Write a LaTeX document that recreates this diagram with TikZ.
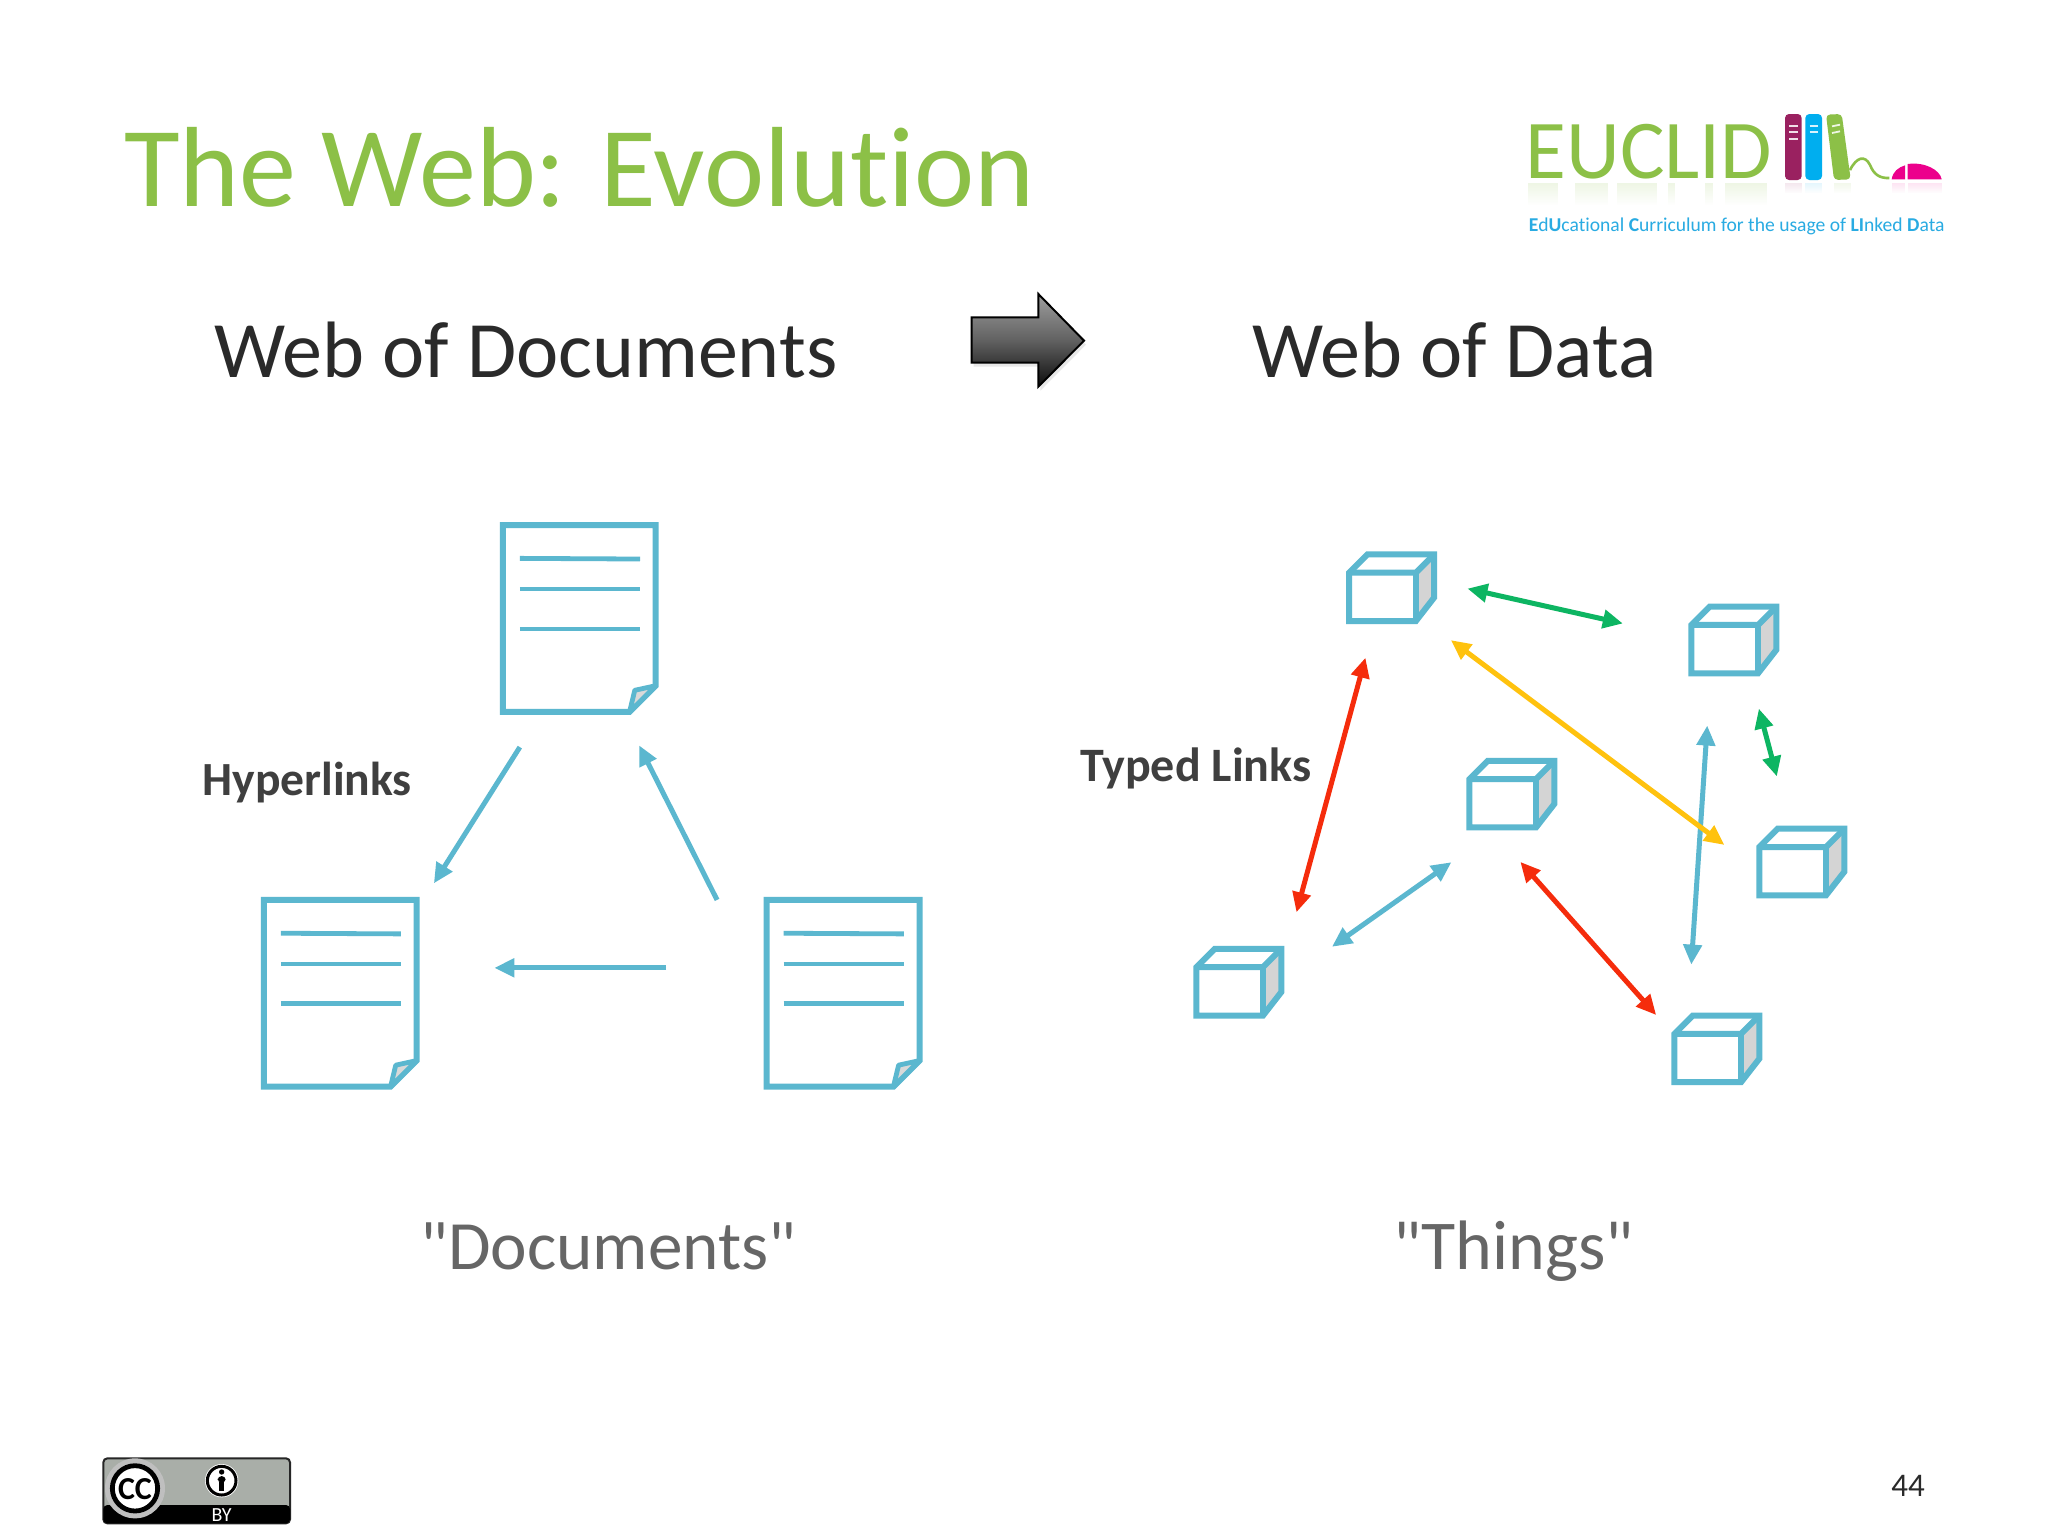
\documentclass[tikz,border=0pt]{standalone}
\usepackage{fontspec}
\newfontfamily\crl[Ligatures=NoCommon]{Carlito}
\usetikzlibrary{arrows.meta,shadows,fadings}
\definecolor{lnk}{HTML}{5BB7CF}
\definecolor{ttl}{HTML}{8CC047}
\definecolor{hd}{HTML}{2A2A2A}
\definecolor{lab}{HTML}{3F3F3F}
\definecolor{thing}{HTML}{666666}
\definecolor{rd}{HTML}{F52C0C}
\definecolor{grn}{HTML}{0DB562}
\definecolor{yel}{HTML}{FFC20E}
\definecolor{lgb}{HTML}{29ABE2}
\definecolor{bk1}{HTML}{9A2160}
\definecolor{bk2}{HTML}{00AEEF}
\definecolor{ms}{HTML}{EC008C}
\definecolor{badge}{HTML}{A9AEA8}
\tikzset{
  txt/.style={anchor=base west,inner sep=0pt,outer sep=0pt},
  docline/.style={draw=lnk,line width=2.4pt},
  docframe/.style={draw=lnk,line width=3pt,line join=miter,fill=white},
  cubeline/.style={draw=lnk,line width=3pt,line join=miter},
  lnkarrow/.style={line width=2.5pt,shorten >=-1pt,-{Triangle[length=10pt,width=9pt]}},
  twoway/.style={line width=2.5pt,shorten >=-1pt,shorten <=-1pt,{Triangle[length=10pt,width=9pt]}-{Triangle[length=10pt,width=9pt]}},
  docpic/.pic={
    \path[docframe] (1,1) -- (118,1) -- (118,124) -- (98,144) -- (1,144) -- cycle;
    \path[draw=lnk,line width=2.4pt,fill=black!15,line join=round] (118,124) -- (102,127.5) -- (98,144) -- cycle;
    \draw[docline] (14,26.5) -- (106,27);
    \draw[docline] (14,50) -- (106,50);
    \draw[docline] (14,80.5) -- (106,80.5);
  },
  cubepic/.pic={
    \path[fill=black!17] (51,14) -- (65,0) -- (65,33) -- (51,51) -- cycle;
    \path[cubeline] (0,14) -- (14,0) -- (65,0) -- (65,33) -- (51,51) -- (0,51) -- cycle;
    \path[cubeline] (0,14) -- (51,14) -- (65,0);
    \path[cubeline] (51,14) -- (51,51);
  },
}
\begin{document}
\begin{tikzpicture}[x=0.65306pt,y=-0.65306pt,every node/.style={font=\crl}]
\useasboundingbox[fill=white] (0,0) rectangle (1568,1176);

% title and headings
\node[txt,text=ttl,font=\crl\fontsize{57}{58}\selectfont] (title) at (95,158) {The Web: Evolution};
\node[txt,text=hd,font=\crl\fontsize{40}{41}\selectfont] (wdocs) at (164,289) {Web of Documents};
\node[txt,text=hd,font=\crl\fontsize{40}{41}\selectfont] (wdata) at (959,289) {Web of Data};
\node[txt,text=lab,font=\crl\bfseries\fontsize{23.8}{24}\selectfont] (hyper) at (155,609) {Hyperlinks};
\node[txt,text=lab,font=\crl\bfseries\fontsize{24}{24}\selectfont] (typed) at (827,598) {Typed Links};
\node[txt,text=thing,font=\crl\fontsize{34.6}{35}\selectfont] (docs) at (322,972) {"Documents"};
\node[txt,text=thing,font=\crl\fontsize{35}{35}\selectfont] (things) at (1067,972) {"Things"};
\node[anchor=base east,inner sep=0pt,text=hd,font=\crl\fontsize{16.5}{17}\selectfont] (pageno) at (1474,1146) {44};

% big arrow
\begin{scope}[shift={(475pt,-140pt)},x=0.16667pt,y=-0.16667pt]
\path[draw=black,line width=1pt,line join=miter,top color=black!38,bottom color=black!95,middle color=black!62,drop shadow={shadow xshift=1pt,shadow yshift=-2pt,opacity=.18}]
  (65,112) -- (265,112) -- (265,42) -- (402,182) -- (265,320) -- (265,248) -- (65,248) -- cycle;
\end{scope}

% documents
\pic at (384,401) {docpic};
\pic at (201,688) {docpic};
\pic at (586,688) {docpic};

\coordinate (a1) at (398,572); \coordinate (a2) at (333,675);
\coordinate (b1) at (549,689); \coordinate (b2) at (490,572);
\coordinate (c1) at (510,741); \coordinate (c2) at (380,741);
\draw[lnkarrow,draw=lnk,fill=lnk] (a1) -- (a2);
\draw[lnkarrow,draw=lnk,fill=lnk] (b1) -- (b2);
\draw[lnkarrow,draw=lnk,fill=lnk] (c1) -- (c2);

% cubes
\pic at (1033,424.5) {cubepic};
\pic at (1295,464.5) {cubepic};
\pic at (1125,582.5) {cubepic};
\pic at (1347,634.5) {cubepic};
\pic at (916,726.5) {cubepic};
\pic at (1282,777.5) {cubepic};

\coordinate (d1) at (1125,451); \coordinate (d2) at (1241,477);
\coordinate (e1) at (1112,491); \coordinate (e2) at (1319,646);
\coordinate (f1) at (1347,544); \coordinate (f2) at (1360,593);
\coordinate (g1) at (1307,557); \coordinate (g2) at (1295,737);
\coordinate (h1) at (1045,505); \coordinate (h2) at (993,697);
\coordinate (i1) at (1110,661); \coordinate (i2) at (1021,724);
\coordinate (j1) at (1165,661); \coordinate (j2) at (1267,776);
\draw[twoway,draw=grn,fill=grn] (d1) -- (d2);
\draw[twoway,draw=grn,fill=grn] (f1) -- (f2);
\draw[twoway,draw=lnk,fill=lnk] (g1) -- (g2);
\draw[twoway,draw=yel,fill=yel] (e1) -- (e2);
\draw[twoway,draw=rd,fill=rd] (h1) -- (h2);
\draw[twoway,draw=lnk,fill=lnk] (i1) -- (i2);
\draw[twoway,draw=rd,fill=rd] (j1) -- (j2);

% logo (coordinates of the 3x crop at 1500,90)
\begin{scope}[shift={(750pt,-45pt)},x=0.16667pt,y=-0.16667pt]
% faint reflection
\foreach \xa/\xb/\cc in {855/905/bk1,916/966/bk2,1002/1052/ttl,1175/1215/ms,1223/1325/ms}
  \fill[\cc,opacity=.10,path fading=south] (\xa,280) rectangle (\xb,310);
\foreach \xa/\xb in {85/175,225/325,350/470,505/525,615/640,675/800}
  \fill[ttl,opacity=.14,path fading=south] (\xa,280) rectangle (\xb,345);
\node[anchor=base west,inner sep=0pt,text=ttl,font=\crl\fontsize{41.8}{43}\selectfont] (euclid) at (76,265) {EUCLID};
\node[anchor=base west,inner sep=0pt,text=lgb,font=\crl\fontsize{9.8}{11}\selectfont] (tag) at (85,424) {\textbf{E}d\textbf{U}cational \textbf{C}urriculum for the usage of \textbf{LI}nked \textbf{D}ata};
\fill[bk1,rounded corners=2pt] (855,72) rectangle (905,270);
\fill[bk2,rounded corners=2pt] (916,72) rectangle (966,270);
\fill[ttl,rounded corners=2pt] (978,74) -- (1025,72) -- (1052,268) -- (1002,270) -- cycle;
\foreach \yy in {107,127,147} \draw[white!85!bk1,line width=.9pt] (868,\yy) -- (893,\yy);
\foreach \yy in {107,127} \draw[white!85!bk2,line width=.9pt] (929,\yy) -- (953,\yy);
\foreach \yy in {107,127} \draw[white!85!ttl,line width=.9pt] (996,\yy+2) -- (1020,\yy-3);
\draw[ttl,line width=1.3pt] (1050,240) .. controls (1070,200) and (1095,195) .. (1110,225) .. controls (1122,255) and (1140,265) .. (1168,264);
\fill[ms] (1175,268) .. controls (1178,245) and (1195,232) .. (1215,226) -- (1215,268) -- cycle;
\fill[ms] (1223,268) -- (1223,222) .. controls (1275,215) and (1320,240) .. (1325,268) -- cycle;
\end{scope}

% licence badge (coordinates of the 3x crop at 90,1440)
\begin{scope}[shift={(45pt,-720pt)},x=0.16667pt,y=-0.16667pt]
\path[fill=badge,draw=black!85,line width=1pt,rounded corners=2pt] (40,55) rectangle (600,250);
\fill[black,rounded corners=2pt] (40,195) -- (600,195) -- (600,250) -- (40,250) -- cycle;
\fill[black!25] (135,145) circle (90);
\fill[white] (135,145) circle (74);
\draw[black,line width=2.4pt] (135,145) circle (68);
\node[inner sep=0pt,font=\crl\bfseries\fontsize{16}{16}\selectfont] (cc) at (135,147) {CC};
\fill[white] (395,122) circle (50);
\draw[black,line width=1.5pt] (395,122) circle (43);
\fill[black] (395,96) circle (8);
\fill[black,rounded corners=2pt] (383,108) rectangle (407,128);
\fill[black] (387,125) rectangle (403,154);
\node[inner sep=0pt,text=white,font=\crl\fontsize{10}{10}\selectfont] (by) at (395,224) {BY};
\end{scope}
\end{tikzpicture}
\end{document}
